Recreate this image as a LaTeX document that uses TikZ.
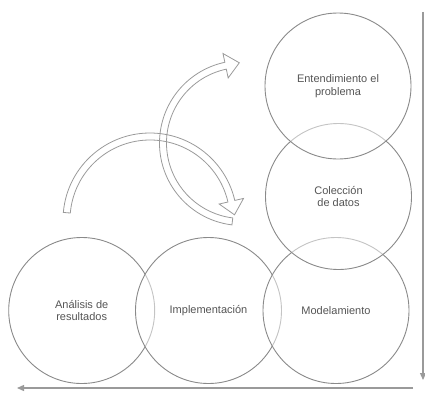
\documentclass[tikz,border=0pt]{standalone}
\usepackage{fontspec}
\setmainfont{Liberation Sans}
\usetikzlibrary{arrows.meta}
\definecolor{circgray}{HTML}{8A8A8A}
\definecolor{arrgray}{HTML}{9A9A9A}
\definecolor{txtgray}{HTML}{555555}
\begin{document}
\begin{tikzpicture}[x=1pt,y=1pt,
  stage/.style={circle,draw=circgray,line width=0.9pt,minimum size=146pt,inner sep=0pt,
    fill=white,fill opacity=0.5,text opacity=1,text=txtgray,align=center,
    font=\fontsize{11}{12.5}\selectfont},
  fatarrow/.style={draw=arrgray,line width=0.8pt,line join=miter},
  axis/.style={draw=arrgray,line width=1.3pt,-{Triangle[length=7pt,width=6pt]}}]
\useasboundingbox (0,0) rectangle (425,392);
% circles (drawn so later ones lighten the earlier strokes)
\node[stage] (ana) at (81.7,81.5) {Análisis de\\resultados};
\node[stage] (imp) at (208.5,81.5) {Implementación};
\node[stage] (mod) at (336,81.5) {Modelamiento};
\node[stage] (col) at (338.5,195.5) {Colección\\de datos};
\node[stage] (ent) at (338,306) {Entendimiento el\\problema};
% lower curved arrow
\begin{scope}[shift={(150,172)}]
\draw[fatarrow] (175:87) arc[start angle=175,end angle=13,radius=87]
  -- (13:96) -- (84.5,5.2) -- (13:71) -- (13:80)
  arc[start angle=13,end angle=175,radius=80] -- cycle;
\end{scope}
% upper curved arrow
\begin{scope}[shift={(242,249)}]
\draw[fatarrow] (263:82.5) arc[start angle=263,end angle=102,radius=82.5]
  -- (102:91.5) -- (-2.7,80.2) -- (102:66.5) -- (102:75.5)
  arc[start angle=102,end angle=263,radius=75.5] -- cycle;
\end{scope}
% axes
\coordinate (vtop) at (423,380);
\coordinate (vbot) at (423,12);
\coordinate (hright) at (413,4);
\coordinate (hleft) at (17,4);
\draw[axis] (vtop) -- (vbot);
\draw[axis] (hright) -- (hleft);
\end{tikzpicture}
\end{document}
